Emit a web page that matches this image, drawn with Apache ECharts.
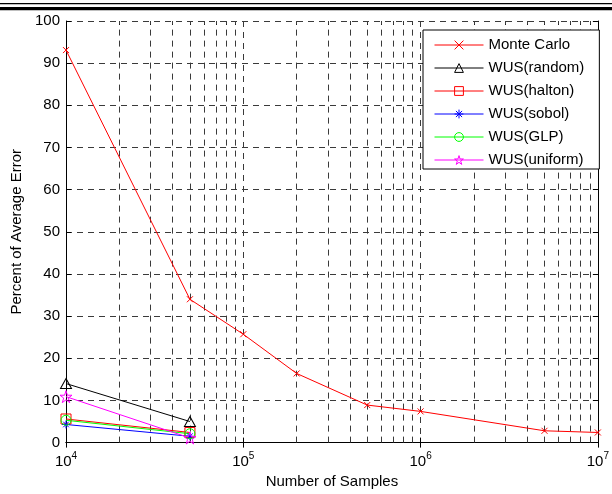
<!DOCTYPE html>
<html>
<head>
<meta charset="utf-8">
<script src="https://cdn.jsdelivr.net/npm/echarts@6/dist/echarts.min.js"></script>
<style>
  html, body { margin: 0; padding: 0; background: #fff; }
  #chart { width: 612px; height: 494px; }
</style>
</head>
<body>
<div id="chart"></div>
<script>
// Sample counts (x) and percent of average error (y) for each estimator
const sampleCounts = [1e4, 5e4, 1e5, 2e5, 5e5, 1e6, 5e6, 1e7];
const monteCarlo   = [93.1, 34.0, 25.7, 16.4, 8.9, 7.4, 2.8, 2.4];

const wusSamples = [1e4, 5e4];
const wusRandom  = [14.0, 5.0];
const wusHalton  = [5.6, 2.4];
const wusSobol   = [4.3, 1.5];
const wusGLP     = [5.3, 2.1];
const wusUniform = [10.9, 1.1];

// Axis ranges and tick positions
const xRange = [1e4, 1e7];
const yRange = [0, 100];
const yStep = 10;
const minorTicks = [
  2e4, 3e4, 4e4, 5e4, 6e4, 7e4, 8e4, 9e4,
  2e5, 3e5, 4e5, 5e5, 6e5, 7e5, 8e5, 9e5,
  2e6, 3e6, 4e6, 5e6, 6e6, 7e6, 8e6, 9e6
];

const FONT = 'Arial, "Liberation Sans", sans-serif';
const dash = [6, 5];
const gridColor = '#3a3a3a';

const symX = 'path://M0,0L10,10M10,0L0,10';
const symStar = 'path://M0,-100L22.45,-30.9L95.1,-30.9L36.3,11.8L58.8,80.9L0,38.2L-58.8,80.9L-36.3,11.8L-95.1,-30.9L-22.45,-30.9Z';
const symAsterisk = 'path://M0,-10L0,10M-10,0L10,0M-7,-7L7,7M-7,7L7,-7';

const pairs = (xs, ys) => xs.map((x, i) => [x, ys[i]]);

function lineSeries(name, xs, ys, color, symbol, size) {
  return {
    name: name,
    type: 'line',
    data: pairs(xs, ys),
    xAxisIndex: 0,
    yAxisIndex: 0,
    clip: false,
    symbol: symbol,
    symbolSize: size,
    showAllSymbol: true,
    lineStyle: { color: color, width: 1 },
    itemStyle: { color: 'none', borderColor: color, borderWidth: 1 },
    emphasis: { disabled: true },
    z: 3
  };
}

const chart = echarts.init(document.getElementById('chart'), null, { renderer: 'canvas' });

const tickLabelStyle = {
  color: '#000',
  fontFamily: FONT,
  fontSize: 15
};

chart.setOption({
  animation: false,
  backgroundColor: '#fff',
  textStyle: { fontFamily: FONT },
  grid: { left: 66, right: 8, top: 21, bottom: 49, containLabel: false },
  graphic: [
    { type: 'rect', left: 0, top: 3, shape: { width: 612, height: 1.3 }, style: { fill: '#000' }, silent: true },
    { type: 'rect', left: 0, top: 7, shape: { width: 612, height: 3.3 }, style: { fill: '#000' }, silent: true }
  ],
  legend: {
    left: 423,
    top: 30,
    orient: 'vertical',
    itemWidth: 49,
    itemHeight: 11,
    itemGap: 7,
    padding: [7, 15, 1, 11],
    backgroundColor: '#fff',
    borderColor: '#000',
    borderWidth: 1,
    borderRadius: 0,
    selectedMode: false,
    itemStyle: { borderWidth: 1 },
    lineStyle: { width: 1 },
    textStyle: { color: '#000', fontFamily: FONT, fontSize: 15, lineHeight: 16 },
    data: ['Monte Carlo', 'WUS(random)', 'WUS(halton)', 'WUS(sobol)', 'WUS(GLP)', 'WUS(uniform)']
  },
  xAxis: [
    {
      type: 'log',
      logBase: 10,
      min: xRange[0],
      max: xRange[1],
      position: 'bottom',
      name: 'Number of Samples',
      nameLocation: 'middle',
      nameGap: 31,
      nameTextStyle: { color: '#000', fontFamily: FONT, fontSize: 15 },
      axisLine: { show: true, lineStyle: { color: '#000', width: 1 } },
      axisTick: { show: true, inside: true, length: 5, lineStyle: { color: '#000' } },
      axisLabel: {
        margin: 9,
        formatter: function (v) {
          return '{b|10}{s|' + Math.round(Math.log10(v)) + '}';
        },
        rich: {
          b: { color: '#000', fontFamily: FONT, fontSize: 15 },
          s: { color: '#000', fontFamily: FONT, fontSize: 10, verticalAlign: 'bottom', padding: [0, 0, 10, 0] }
        }
      },
      splitLine: { show: true, lineStyle: { color: gridColor, width: 1, type: dash } }
    },
    {
      type: 'log',
      logBase: 10,
      min: xRange[0],
      max: xRange[1],
      position: 'top',
      axisLine: { show: true, lineStyle: { color: '#000', width: 1 } },
      axisTick: { show: true, inside: true, length: 5, lineStyle: { color: '#000' } },
      axisLabel: { show: false },
      splitLine: { show: false }
    },
    {
      // minor ticks (log10 space) along the bottom edge
      type: 'value',
      min: Math.log10(xRange[0]),
      max: Math.log10(xRange[1]),
      position: 'bottom',
      axisLine: { show: false },
      axisTick: { show: true, inside: true, length: 4, lineStyle: { color: '#000' },
        customValues: minorTicks.map(v => Math.log10(v)) },
      axisLabel: { show: false, customValues: minorTicks.map(v => Math.log10(v)) },
      splitLine: { show: false }
    },
    {
      // minor ticks (log10 space) along the top edge
      type: 'value',
      min: Math.log10(xRange[0]),
      max: Math.log10(xRange[1]),
      position: 'top',
      axisLine: { show: false },
      axisTick: { show: true, inside: true, length: 4, lineStyle: { color: '#000' },
        customValues: minorTicks.map(v => Math.log10(v)) },
      axisLabel: { show: false, customValues: minorTicks.map(v => Math.log10(v)) },
      splitLine: { show: false }
    }
  ],
  yAxis: [
    {
      type: 'value',
      min: yRange[0],
      max: yRange[1],
      interval: yStep,
      position: 'left',
      name: 'Percent of Average Error',
      nameLocation: 'middle',
      nameGap: 41,
      nameTextStyle: { color: '#000', fontFamily: FONT, fontSize: 15 },
      axisLine: { show: true, lineStyle: { color: '#000', width: 1 } },
      axisTick: { show: true, inside: true, length: 5, lineStyle: { color: '#000' } },
      axisLabel: Object.assign({ margin: 6 }, tickLabelStyle),
      splitLine: { show: true, lineStyle: { color: gridColor, width: 1, type: dash } }
    },
    {
      type: 'value',
      min: yRange[0],
      max: yRange[1],
      interval: yStep,
      position: 'right',
      axisLine: { show: true, lineStyle: { color: '#000', width: 1 } },
      axisTick: { show: true, inside: true, length: 5, lineStyle: { color: '#000' } },
      axisLabel: { show: false },
      splitLine: { show: false }
    }
  ],
  series: [
    {
      // dashed minor grid lines at 2..9 × 10^k
      name: 'minor-grid',
      type: 'line',
      data: [],
      xAxisIndex: 0,
      yAxisIndex: 0,
      silent: true,
      markLine: {
        silent: true,
        z: 1,
        symbol: 'none',
        animation: false,
        label: { show: false },
        emphasis: { disabled: true },
        lineStyle: { color: gridColor, width: 1, type: dash },
        data: minorTicks.map(v => ({ xAxis: v }))
      }
    },
    lineSeries('Monte Carlo', sampleCounts, monteCarlo, '#ff0000', symX, 6),
    lineSeries('WUS(random)', wusSamples, wusRandom, '#000000', 'triangle', [11, 10]),
    lineSeries('WUS(halton)', wusSamples, wusHalton, '#ff0000', 'rect', 10),
    lineSeries('WUS(sobol)', wusSamples, wusSobol, '#0000ff', symAsterisk, 8),
    lineSeries('WUS(GLP)', wusSamples, wusGLP, '#00ff00', 'circle', 10),
    lineSeries('WUS(uniform)', wusSamples, wusUniform, '#ff00ff', symStar, 12)
  ]
});
</script>
</body>
</html>
